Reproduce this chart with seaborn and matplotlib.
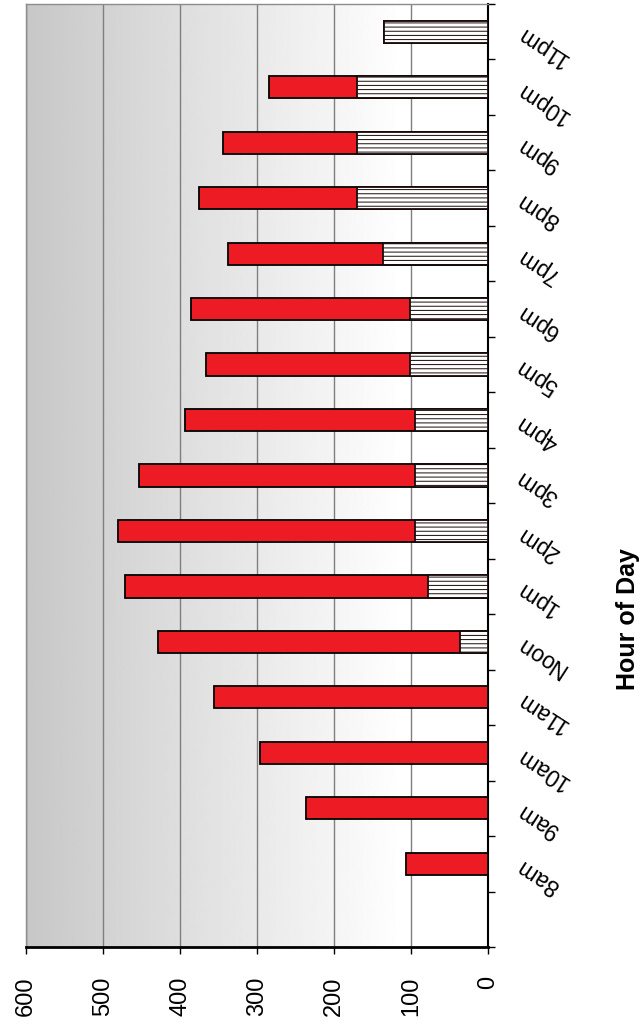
import numpy as np
import pandas as pd
import matplotlib
matplotlib.use("Agg")
import matplotlib.pyplot as plt
import seaborn as sns

# Hourly counts: solid (red) segment stacked on the hatched segment
hours = ["8am", "9am", "10am", "11am", "Noon", "1pm", "2pm", "3pm",
         "4pm", "5pm", "6pm", "7pm", "8pm", "9pm", "10pm", "11pm"]
solid = [107, 237, 296, 356, 392, 393, 385, 358, 299, 265, 284, 201, 204, 173, 114, 0]
hatched = [0, 0, 0, 0, 37, 78, 95, 95, 95, 102, 102, 137, 171, 171, 170, 135]
value_ticks = [0, 100, 200, 300, 400, 500, 600]
axis_title = "Hour of Day"

sns.set_theme(style="white")
plt.rcParams["font.family"] = ["Liberation Sans", "DejaVu Sans"]
plt.rcParams["hatch.linewidth"] = 0.7

df = pd.DataFrame({"hour": hours, "solid": solid, "hatched": hatched})
df["total"] = df["solid"] + df["hatched"]
order = hours[::-1]

W, H = 643, 1027
fig = plt.figure(figsize=(W / 100, H / 100), dpi=100)
ax = fig.add_axes([26 / W, 80 / H, 462.3 / W, 943 / H])

# full stack in red, then the lower (hatched) segment drawn over it
sns.barplot(data=df, x="total", y="hour", order=order, orient="h",
            color="#ED1C24", saturation=1, width=0.4, errorbar=None,
            edgecolor="black", linewidth=1.3, ax=ax, zorder=3)
sns.barplot(data=df, x="hatched", y="hour", order=order, orient="h",
            color="white", saturation=1, width=0.4, errorbar=None,
            edgecolor="#1a0a0a", linewidth=1.3, hatch="----", ax=ax, zorder=4)

# grey-to-white plot background
grad = np.clip(0.78 + 0.27 * np.linspace(0, 1, 512), 0, 1)[None, :]
ax.imshow(grad, extent=[0, 1, 0, 1], transform=ax.transAxes, cmap="gray",
          vmin=0, vmax=1, aspect="auto", zorder=-1, interpolation="bilinear")

ax.set_xlim(600, 0)
ax.set_ylim(16.5, -0.5)
ax.set_xlabel("")
ax.set_ylabel("")

# value axis
ax.set_xticks(value_ticks)
ax.set_xticklabels([str(v) for v in value_ticks])
ax.tick_params(axis="x", bottom=True, length=5, width=1, direction="out",
               color="black", pad=16, labelsize=17, labelrotation=90,
               labelcolor="black")
ax.xaxis.grid(True, color="#7f7f7f", linewidth=1)
ax.yaxis.grid(False)
ax.set_axisbelow(True)

# category axis on the right: ticks between categories, labels at centres
ax.yaxis.tick_right()
ax.set_yticks(np.arange(-0.5, 16.6, 1.0))
ax.set_yticklabels([])
ax.set_yticks(np.arange(len(order)), labels=order, minor=True)
ax.tick_params(axis="y", which="major", right=True, left=False, length=5,
               width=1, direction="out", color="black")
ax.tick_params(axis="y", which="minor", right=True, left=False, length=0,
               pad=22, labelsize=16.5, labelright=True, labelleft=False,
               labelcolor="black")
for lab in ax.get_yticklabels(minor=True):
    lab.set_rotation(147)
    lab.set_rotation_mode("anchor")
    lab.set_horizontalalignment("right")
    lab.set_verticalalignment("center")

for side in ("left", "top"):
    ax.spines[side].set_color("#8c8c8c")
    ax.spines[side].set_linewidth(1)
ax.spines["bottom"].set_color("black")
ax.spines["bottom"].set_linewidth(2)
ax.spines["right"].set_color("black")
ax.spines["right"].set_linewidth(1.5)

fig.text(628 / W, 1 - 619 / H, axis_title, rotation=90, fontsize=18,
         fontweight="bold", ha="center", va="center", color="black")

fig.savefig("out.png", dpi=100)
